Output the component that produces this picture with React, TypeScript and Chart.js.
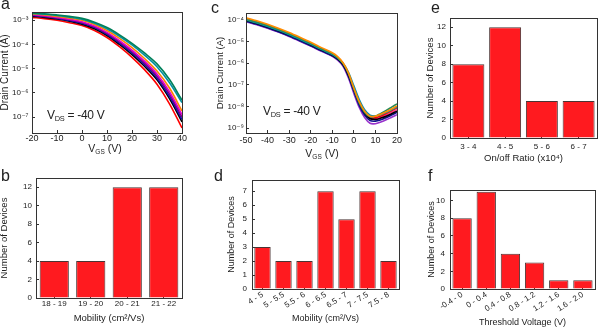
import React, { useEffect, useRef } from "react";
import { Chart, registerables } from "chart.js";

Chart.register(...registerables);

const FONT = '"Liberation Sans", Arial, "DejaVu Sans", sans-serif';
const TXT = "#222";
const BAR_FILL = "#ff1a1f";
const BAR_EDGE = "#4a3434";

// ---------- panel a : transfer curves, VGS -20..40 V (log10 of drain current, A)
const vgsA = [-20, -15, -10, -5, 0, 5, 10, 15, 20, 25, 30, 35, 40];
const logIdA_green = [-2.7, -2.73, -2.78, -2.84, -2.92, -3.08, -3.3, -3.6, -3.95, -4.35, -4.8, -5.45, -6.3];
const logIdA_teal = [-2.72, -2.75, -2.8, -2.87, -2.96, -3.12, -3.35, -3.66, -4.02, -4.44, -4.92, -5.58, -6.4];
const logIdA_orange = [-2.74, -2.78, -2.84, -2.91, -3.0, -3.17, -3.42, -3.75, -4.13, -4.58, -5.1, -5.8, -6.75];
const logIdA_magenta = [-2.76, -2.81, -2.88, -2.96, -3.06, -3.24, -3.5, -3.84, -4.23, -4.69, -5.22, -5.95, -6.9];
const logIdA_purple = [-2.78, -2.83, -2.9, -2.98, -3.09, -3.27, -3.54, -3.89, -4.29, -4.76, -5.3, -6.04, -7.0];
const logIdA_navy = [-2.8, -2.85, -2.92, -3.01, -3.12, -3.3, -3.58, -3.94, -4.35, -4.83, -5.38, -6.14, -7.1];
const logIdA_black = [-2.83, -2.88, -2.95, -3.04, -3.16, -3.35, -3.63, -4.0, -4.42, -4.9, -5.46, -6.24, -7.2];
const logIdA_red = [-2.88, -2.93, -3.0, -3.1, -3.22, -3.42, -3.71, -4.09, -4.53, -5.04, -5.64, -6.45, -7.45];
const seriesA = [logIdA_green, logIdA_teal, logIdA_orange, logIdA_magenta, logIdA_purple, logIdA_navy, logIdA_black, logIdA_red];
const colorsA = ["#00805a", "#0090a0", "#ff8000", "#e000d0", "#800080", "#1010b0", "#000000", "#ff0000"];
const yTicksA = [1e-7, 1e-6, 1e-5, 1e-4, 1e-3];

// ---------- panel c : transfer curves, VGS -50..20 V (log10 of drain current, A)
const vgsC = [-50, -45, -40, -35, -30, -25, -20, -15, -10, -7.5, -5, -2.5, 0, 2.5, 5, 7.5, 10, 12.5, 15, 17.5, 20];
const logIdC_orange = [-3.9, -4.04, -4.2, -4.38, -4.58, -4.8, -5.03, -5.28, -5.52, -5.7, -5.98, -6.45, -7.15, -7.78, -8.22, -8.45, -8.45, -8.36, -8.25, -8.12, -7.98];
const logIdC_red = [-3.95, -4.09, -4.25, -4.43, -4.63, -4.85, -5.08, -5.32, -5.56, -5.74, -6.02, -6.52, -7.25, -7.88, -8.3, -8.52, -8.52, -8.44, -8.33, -8.2, -8.07];
const logIdC_pink = [-3.98, -4.12, -4.28, -4.46, -4.66, -4.88, -5.11, -5.35, -5.58, -5.76, -6.04, -6.58, -7.32, -7.95, -8.36, -8.58, -8.58, -8.5, -8.4, -8.28, -8.15];
const logIdC_black = [-4.02, -4.16, -4.32, -4.5, -4.7, -4.92, -5.15, -5.39, -5.62, -5.8, -6.06, -6.55, -7.22, -7.85, -8.3, -8.56, -8.6, -8.54, -8.45, -8.34, -8.22];
const logIdC_navy = [-4.06, -4.2, -4.36, -4.54, -4.74, -4.96, -5.19, -5.43, -5.66, -5.83, -6.1, -6.6, -7.3, -7.95, -8.4, -8.65, -8.68, -8.62, -8.52, -8.4, -8.28];
const logIdC_teal = [-4.0, -4.14, -4.3, -4.48, -4.68, -4.9, -5.13, -5.37, -5.6, -5.76, -6.0, -6.42, -7.05, -7.68, -8.15, -8.4, -8.44, -8.38, -8.28, -8.16, -8.03];
const logIdC_purple = [-4.08, -4.22, -4.38, -4.56, -4.76, -4.98, -5.21, -5.45, -5.68, -5.86, -6.14, -6.68, -7.4, -8.05, -8.52, -8.78, -8.8, -8.72, -8.62, -8.5, -8.38];
const logIdC_green = [-3.96, -4.1, -4.26, -4.44, -4.64, -4.86, -5.09, -5.33, -5.57, -5.75, -6.02, -6.5, -7.2, -7.85, -8.28, -8.48, -8.45, -8.32, -8.18, -8.03, -7.88];
const seriesC = [logIdC_orange, logIdC_green, logIdC_teal, logIdC_black, logIdC_navy, logIdC_purple, logIdC_red, logIdC_pink];
const colorsC = ["#ff8c00", "#2e8b57", "#0090b0", "#000000", "#101090", "#9932cc", "#ff0000", "#ff3399"];
const yTicksC = [1e-9, 1e-8, 1e-7, 1e-6, 1e-5, 1e-4];

// ---------- histograms
const mobilityBLabels = ["18 - 19", "19 - 20", "20 - 21", "21 - 22"];
const mobilityBCounts = [4, 4, 12, 12];
const mobilityDLabels = ["4 - 5", "5 - 5.5", "5.5 - 6", "6 - 6.5", "6.5 - 7", "7 - 7.5", "7.5 - 8"];
const mobilityDCounts = [3, 2, 2, 7, 5, 7, 2];
const ratioLabels = ["3 - 4", "4 - 5", "5 - 6", "6 - 7"];
const ratioCounts = [8, 12, 4, 4];
const vthLabels = ["-0.4 - 0", "0 - 0.4", "0.4 - 0.8", "0.8 - 1.2", "1.2 - 1.6", "1.6 - 2.0"];
const vthCounts = [8, 11, 4, 3, 1, 1];

const SUP: Record<string, string> = { "-": "⁻", "0": "⁰", "1": "¹", "2": "²", "3": "³", "4": "⁴", "5": "⁵", "6": "⁶", "7": "⁷", "8": "⁸", "9": "⁹" };
function pow10Label(v: number) {
  const e = Math.round(Math.log10(v));
  return "10" + String(e).split("").map((c) => SUP[c] || c).join("");
}

const framePlugin = {
  id: "frame",
  afterDatasetsDraw(chart: any) {
    const { ctx, chartArea } = chart;
    const l = Math.round(chartArea.left);
    const t = Math.round(chartArea.top);
    const w = Math.round(chartArea.right) - l;
    const h = Math.round(chartArea.bottom) - t;
    ctx.save();
    ctx.strokeStyle = "#333";
    ctx.lineWidth = 1;
    ctx.strokeRect(l + 0.5, t + 0.5, w, h);
    ctx.restore();
  },
};

type Pad = { left: number; top: number; right: number };

function makeLine(
  xs: number[], series: number[][], colors: string[], xr: number[], yr: number[], yTicks: number[],
  pad: Pad, yW: number, xH: number, yTitleSize: number, yTickPad: number, xTickPad: number
): any {
  return {
    type: "line",
    data: {
      datasets: series.map((s, i) => ({
        data: xs.map((x, j) => ({ x, y: Math.pow(10, s[j]) })),
        borderColor: colors[i],
        borderWidth: 1.6,
        pointRadius: 0,
        fill: false,
        tension: 0.35,
      })),
    },
    options: {
      responsive: false,
      animation: false,
      events: [],
      layout: { padding: { left: pad.left, top: pad.top, right: pad.right, bottom: 0 } },
      plugins: { legend: { display: false }, tooltip: { enabled: false } },
      scales: {
        x: {
          type: "linear",
          min: xr[0],
          max: xr[1],
          ticks: { stepSize: 10, color: TXT, font: { family: FONT, size: 9 }, padding: xTickPad, maxRotation: 0, autoSkip: false },
          grid: { drawOnChartArea: false, tickLength: -3, color: "#333" },
          border: { display: false },
          afterFit: (s: any) => { s.height = xH; },
        },
        y: {
          type: "logarithmic",
          min: yr[0],
          max: yr[1],
          afterBuildTicks: (s: any) => { s.ticks = yTicks.map((v) => ({ value: v })); },
          ticks: { callback: (v: any) => pow10Label(Number(v)), color: TXT, font: { family: FONT, size: 8 }, padding: yTickPad, autoSkip: false },
          grid: { drawOnChartArea: false, tickLength: -3, color: "#333" },
          border: { display: false },
          title: { display: true, text: "Drain Current (A)", color: TXT, font: { family: FONT, size: yTitleSize, lineHeight: 1 }, padding: 0 },
          afterFit: (s: any) => { s.width = yW; },
        },
      },
    },
    plugins: [framePlugin],
  };
}

function makeBar(
  labels: string[], counts: number[], yMax: number, yStep: number, barPct: number, rot: number,
  xTitle: string, titleSize: number, pad: Pad, yW: number, xH: number,
  xTickPad: number, yTickPad: number, xTitlePadB: number, tickSize: number
): any {
  return {
    type: "bar",
    data: {
      labels,
      datasets: [{ data: counts, backgroundColor: BAR_FILL, borderColor: BAR_EDGE, borderWidth: 1, barPercentage: barPct, categoryPercentage: 1 }],
    },
    options: {
      responsive: false,
      animation: false,
      events: [],
      layout: { padding: { left: pad.left, top: pad.top, right: pad.right, bottom: 0 } },
      plugins: { legend: { display: false }, tooltip: { enabled: false } },
      scales: {
        x: {
          type: "category",
          ticks: { color: TXT, font: { family: FONT, size: tickSize }, padding: xTickPad, minRotation: rot, maxRotation: rot, autoSkip: false },
          grid: { drawOnChartArea: false, tickLength: -3, color: "#333", offset: false },
          border: { display: false },
          title: { display: true, text: xTitle, color: TXT, font: { family: FONT, size: titleSize, lineHeight: 1 }, padding: { top: 0, bottom: xTitlePadB } },
          afterFit: (s: any) => { s.height = xH; },
        },
        y: {
          type: "linear",
          min: 0,
          max: yMax,
          ticks: { stepSize: yStep, includeBounds: false, color: TXT, font: { family: FONT, size: 8 }, padding: yTickPad },
          grid: { drawOnChartArea: false, tickLength: -3, color: "#333" },
          border: { display: false },
          title: { display: true, text: "Number of Devices", color: TXT, font: { family: FONT, size: titleSize, lineHeight: 1 }, padding: 0 },
          afterFit: (s: any) => { s.width = yW; },
        },
      },
    },
    plugins: [framePlugin],
  };
}

function ChartBox({ left, top, width, height, make }: { left: number; top: number; width: number; height: number; make: () => any }) {
  const ref = useRef<HTMLCanvasElement>(null);
  useEffect(() => {
    const chart = new Chart(ref.current as HTMLCanvasElement, make());
    return () => chart.destroy();
  }, []);
  return <canvas ref={ref} width={width} height={height} style={{ position: "absolute", left, top, width, height }} />;
}

const subStyle: React.CSSProperties = { fontSize: "0.62em", position: "relative", top: "0.3em" };

function Txt({ x, y, size, center, children, spacing }: { x: number; y: number; size: number; center?: boolean; children: React.ReactNode; spacing?: number }) {
  return (
    <div
      style={{
        position: "absolute",
        left: x,
        top: y,
        fontSize: size,
        lineHeight: 1,
        whiteSpace: "nowrap",
        letterSpacing: spacing || 0,
        transform: center ? "translate(-50%, -50%)" : undefined,
      }}
    >
      {children}
    </div>
  );
}

export default function App() {
  return (
    <div style={{ position: "absolute", left: 0, top: 0, width: 600, height: 327, background: "#fff", fontFamily: FONT, color: TXT, overflow: "hidden" }}>
      <ChartBox left={0} top={0} width={200} height={165}
        make={() => makeLine(vgsA, seriesA, colorsA, [-20, 40], [2.2e-8, 2.2e-3], yTicksA, { left: 0, top: 12, right: 18 }, 32, 32, 10, 6.5, 3)} />
      <ChartBox left={200} top={0} width={210} height={165}
        make={() => makeLine(vgsC, seriesC, colorsC, [-50, 20], [5.9e-10, 2.1e-4], yTicksC, { left: 16, top: 13, right: 13 }, 30, 32, 9.5, 5, 5)} />
      <ChartBox left={400} top={0} width={200} height={165}
        make={() => makeBar(ratioLabels, ratioCounts, 13, 2, 0.87, 0, "On/off Ratio (x10⁴)", 9.5, { left: 26, top: 18, right: 3 }, 24, 27, 6.5, 7, 1.5, 8)} />
      <ChartBox left={0} top={165} width={200} height={162}
        make={() => makeBar(mobilityBLabels, mobilityBCounts, 13, 2, 0.8, 0, "Mobility (cm²/Vs)", 9.5, { left: 0, top: 13, right: 18 }, 36, 29, 4, 7, 3.5, 8)} />
      <ChartBox left={200} top={165} width={210} height={162}
        make={() => makeBar(mobilityDLabels, mobilityDCounts, 7.8, 1, 0.78, 32, "Mobility (cm²/Vs)", 9, { left: 27, top: 15, right: 11 }, 25, 38, 4, 8, 3.5, 8)} />
      <ChartBox left={400} top={165} width={200} height={162}
        make={() => makeBar(vthLabels, vthCounts, 11.2, 2, 0.8, 32, "Threshold Voltage (V)", 9, { left: 27, top: 25, right: 5 }, 23, 38, 4, 8, 0, 8)} />

      <Txt x={105} y={148} size={10.5} center>V<span style={subStyle}>GS</span> (V)</Txt>
      <Txt x={322} y={153} size={10.5} center>V<span style={subStyle}>GS</span> (V)</Txt>
      <Txt x={47} y={108.5} size={12} spacing={-0.3}>V<span style={subStyle}>DS</span> = -40 V</Txt>
      <Txt x={263} y={104.5} size={12} spacing={-0.3}>V<span style={subStyle}>DS</span> = -40 V</Txt>

      <Txt x={1} y={-4} size={16}>a</Txt>
      <Txt x={1} y={167.5} size={16}>b</Txt>
      <Txt x={211} y={-0.5} size={16}>c</Txt>
      <Txt x={214} y={167.5} size={16}>d</Txt>
      <Txt x={431} y={-0.5} size={16}>e</Txt>
      <Txt x={428} y={167.5} size={16}>f</Txt>
    </div>
  );
}
